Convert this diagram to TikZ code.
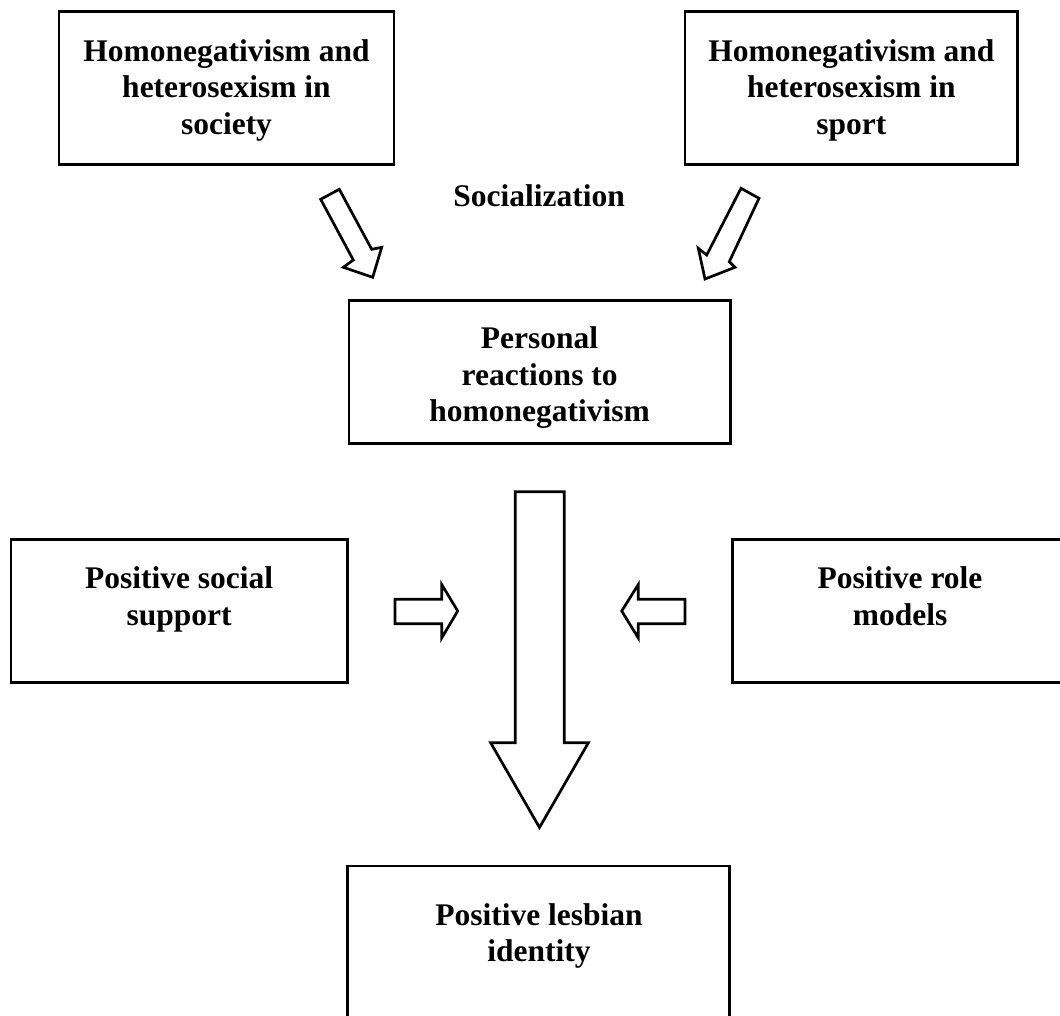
\documentclass[tikz,border=0pt]{standalone}
\usepackage{fontspec}
\setmainfont{Liberation Serif}
\begin{document}
\begin{tikzpicture}[x=1pt,y=-1pt]
                \tikzset{tbox/.style={draw=black, line width=2.7pt, inner sep=0pt},
                         tlabel/.style={font=\fontsize{31.5}{36.5}\selectfont\bfseries, align=center, inner sep=0pt, anchor=base},
                         hollow/.style={draw=black, line width=2.7pt, line join=miter}}
                \useasboundingbox (0,0) rectangle (1060,1015);
                \node [tbox, minimum width=335, minimum height=152.6] (soc) at (226.5,88) {};
                \node [tlabel] (soct) at (226.5,134) {Homonegativism and\\heterosexism in\\society};
                \node [tbox, minimum width=332.7, minimum height=152.6] (spo) at (851.35,88) {};
                \node [tlabel] (spot) at (851.35,134) {Homonegativism and\\heterosexism in\\sport};
                \node [tlabel] (socl) at (539,206.6) {Socialization};
                \node [tbox, minimum width=381.4, minimum height=143.3] (pers) at (539.7,372.05) {};
                \node [tlabel] (perst) at (539.6,421.7) {Personal\\reactions to\\homonegativism};
                \node [tbox, minimum width=336.2, minimum height=142.7] (supp) at (179.1,610.95) {};
                \node [tlabel] (suppt) at (179.1,625) {Positive social\\support};
                \node [tbox, minimum width=335.3, minimum height=142.7] (role) at (900.35,610.95) {};
                \node [tlabel] (rolet) at (900,625) {Positive role\\models};
                \node [tbox, minimum width=381.7, minimum height=152.6] (iden) at (538.55,942.4) {};
                \node [tlabel] (ident) at (539,961.7) {Positive lesbian\\identity};
                % block arrows
                \draw [hollow] (320.7,199.3) -- (339.3,189.3) -- (371.7,249.3) -- (381.7,247.3) -- (372.7,277.3) -- (343.3,267.3) -- (353.3,260) -- cycle;
                \draw [hollow] (741,188.3) -- (759,198.3) -- (729.3,261.7) -- (735,267.3) -- (705,279) -- (698.3,248.3) -- (706.7,255) -- cycle;
                \draw [hollow] (395,599.3) -- (441.7,599.3) -- (441.7,584.5) -- (457.7,611) -- (441.7,638) -- (441.7,623.7) -- (395,623.7) -- cycle;
                \draw [hollow] (685,599.3) -- (638.3,599.3) -- (638.3,584.5) -- (621.7,611) -- (638.3,638) -- (638.3,623.7) -- (685,623.7) -- cycle;
                \draw [hollow] (515.3,491.7) -- (564.2,491.7) -- (564.2,742.7) -- (588.4,742.7) -- (539.5,827.5) -- (490.6,742.7) -- (515.3,742.7) -- cycle;
            \end{tikzpicture}
\end{document}
